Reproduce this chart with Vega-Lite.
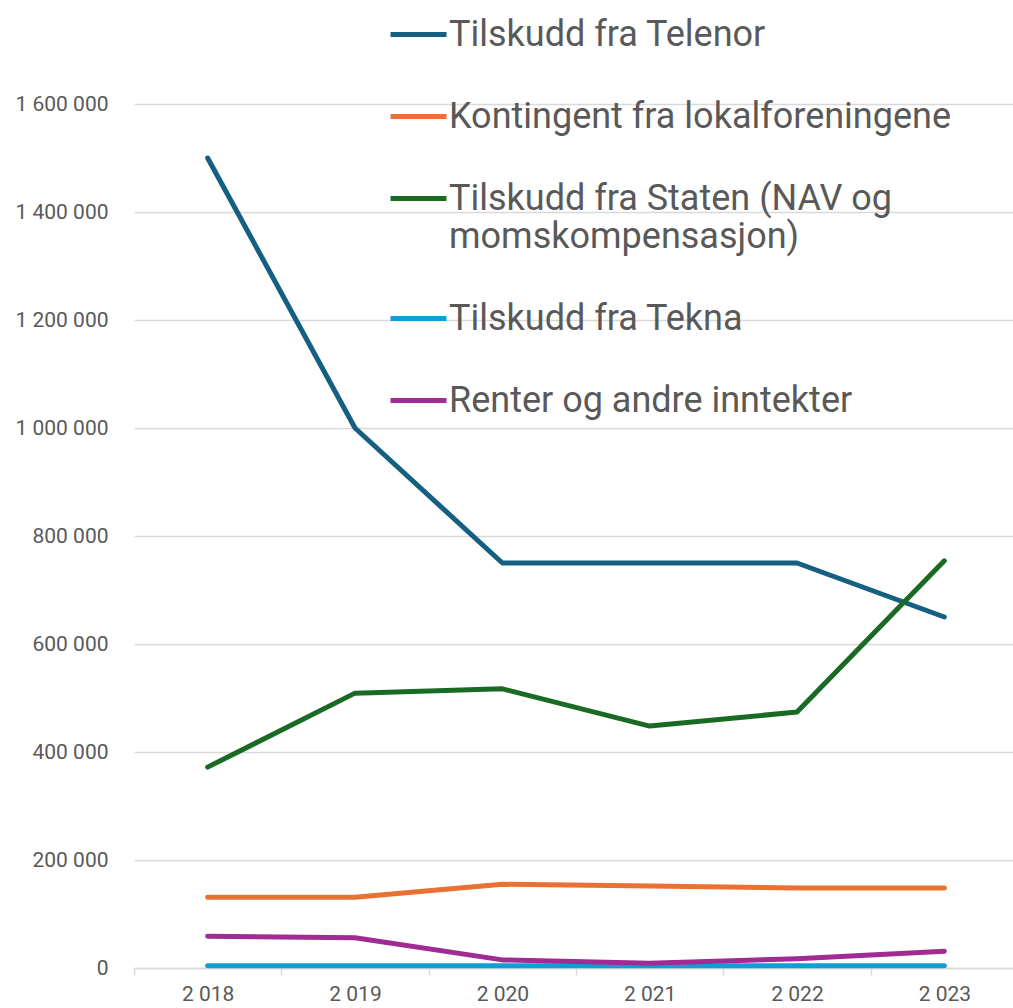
{
  "$schema": "https://vega.github.io/schema/vega-lite/v6.json",
  "width": 879,
  "height": 918,
  "autosize": {"type": "none"},
  "padding": {"left": 134, "top": 50, "right": 0, "bottom": 40},
  "background": "white",
  "config": {
    "view": {"stroke": null},
    "font": "Roboto",
    "locale": {"number": {"decimal": ",", "thousands": " ", "grouping": [3], "currency": ["", " kr"]}}
  },
  "data": {
    "values": [
      {"year": 2018, "series": "Tilskudd fra Telenor", "value": 1500000},
      {"year": 2019, "series": "Tilskudd fra Telenor", "value": 1000000},
      {"year": 2020, "series": "Tilskudd fra Telenor", "value": 750000},
      {"year": 2021, "series": "Tilskudd fra Telenor", "value": 750000},
      {"year": 2022, "series": "Tilskudd fra Telenor", "value": 750000},
      {"year": 2023, "series": "Tilskudd fra Telenor", "value": 650000},
      {"year": 2018, "series": "Kontingent fra lokalforeningene", "value": 131000},
      {"year": 2019, "series": "Kontingent fra lokalforeningene", "value": 131000},
      {"year": 2020, "series": "Kontingent fra lokalforeningene", "value": 155000},
      {"year": 2021, "series": "Kontingent fra lokalforeningene", "value": 152000},
      {"year": 2022, "series": "Kontingent fra lokalforeningene", "value": 148000},
      {"year": 2023, "series": "Kontingent fra lokalforeningene", "value": 148000},
      {"year": 2018, "series": "Tilskudd fra Staten (NAV og momskompensasjon)", "value": 372000},
      {"year": 2019, "series": "Tilskudd fra Staten (NAV og momskompensasjon)", "value": 509000},
      {"year": 2020, "series": "Tilskudd fra Staten (NAV og momskompensasjon)", "value": 517000},
      {"year": 2021, "series": "Tilskudd fra Staten (NAV og momskompensasjon)", "value": 448000},
      {"year": 2022, "series": "Tilskudd fra Staten (NAV og momskompensasjon)", "value": 474000},
      {"year": 2023, "series": "Tilskudd fra Staten (NAV og momskompensasjon)", "value": 754000},
      {"year": 2018, "series": "Tilskudd fra Tekna", "value": 4000},
      {"year": 2019, "series": "Tilskudd fra Tekna", "value": 4000},
      {"year": 2020, "series": "Tilskudd fra Tekna", "value": 4000},
      {"year": 2021, "series": "Tilskudd fra Tekna", "value": 4000},
      {"year": 2022, "series": "Tilskudd fra Tekna", "value": 4000},
      {"year": 2023, "series": "Tilskudd fra Tekna", "value": 4000},
      {"year": 2018, "series": "Renter og andre inntekter", "value": 59000},
      {"year": 2019, "series": "Renter og andre inntekter", "value": 56000},
      {"year": 2020, "series": "Renter og andre inntekter", "value": 15000},
      {"year": 2021, "series": "Renter og andre inntekter", "value": 9000},
      {"year": 2022, "series": "Renter og andre inntekter", "value": 17000},
      {"year": 2023, "series": "Renter og andre inntekter", "value": 31000}
    ]
  },
  "mark": {"type": "line", "strokeWidth": 5, "strokeCap": "round", "strokeJoin": "round"},
  "encoding": {
    "x": {
      "field": "year",
      "type": "ordinal",
      "scale": {"range": [0, 884], "paddingInner": 0, "paddingOuter": 0},
      "axis": {
        "title": null,
        "labelAngle": 0,
        "labelExpr": "isValid(datum.value) ? format(datum.value, ',d') : ''",
        "labelFontSize": 21,
        "labelColor": "#595959",
        "labelPadding": 8,
        "domainColor": "#d9d9d9",
        "domainWidth": 1.5,
        "tickColor": "#d9d9d9",
        "tickWidth": 1.5,
        "tickSize": 7,
        "tickBand": "extent",
        "grid": false
      }
    },
    "y": {
      "field": "value",
      "type": "quantitative",
      "scale": {"domain": [0, 1700000], "nice": false},
      "axis": {
        "title": null,
        "values": [0, 200000, 400000, 600000, 800000, 1000000, 1200000, 1400000, 1600000],
        "format": ",d",
        "labelFontSize": 21,
        "labelColor": "#595959",
        "labelPadding": 26,
        "ticks": false,
        "domain": false,
        "gridColor": "#d9d9d9",
        "gridWidth": 1.5
      }
    },
    "color": {
      "field": "series",
      "type": "nominal",
      "scale": {
        "domain": ["Tilskudd fra Telenor", "Kontingent fra lokalforeningene", "Tilskudd fra Staten (NAV og momskompensasjon)", "Tilskudd fra Tekna", "Renter og andre inntekter"],
        "range": ["#156082", "#E97132", "#196B24", "#0F9ED5", "#A02B93"]
      },
      "legend": {
        "title": null,
        "orient": "none",
        "legendX": 254,
        "legendY": -46,
        "symbolType": "stroke",
        "symbolSize": 3136,
        "symbolStrokeWidth": 5,
        "labelFontSize": 36,
        "labelColor": "#595959",
        "labelLimit": 700,
        "labelOffset": 0,
        "rowPadding": 33,
        "labelExpr": "datum.label == 'Tilskudd fra Staten (NAV og momskompensasjon)' ? ['Tilskudd fra Staten (NAV og', 'momskompensasjon)'] : datum.label"
      }
    }
  }
}
